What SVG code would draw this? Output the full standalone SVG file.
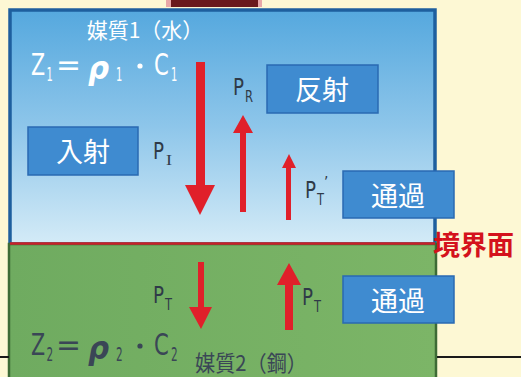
<svg xmlns="http://www.w3.org/2000/svg" width="521" height="377" viewBox="0 0 521 377">
<defs>
<linearGradient id="water" x1="0" y1="0" x2="0" y2="1">
<stop offset="0" stop-color="#55a8de"/>
<stop offset="0.5" stop-color="#8ec6ea"/>
<stop offset="1" stop-color="#d4ebf7"/>
</linearGradient>
<linearGradient id="steel" x1="0" y1="0" x2="1" y2="0">
<stop offset="0" stop-color="#6fab60"/>
<stop offset="1" stop-color="#7cb567"/>
</linearGradient>
</defs>
<style>
.jp{font-family:"Noto Sans CJK JP","Noto Sans",sans-serif;}
.lat{font-family:"DejaVu Sans Condensed","DejaVu Sans","Liberation Sans",sans-serif;}
.box rect{fill:#3f8bd0;stroke:#2a6ab2;stroke-width:1.5;}
.box text{fill:#ffffff;font-size:27px;text-anchor:middle;}
.lbl{fill:#2f3a48;font-size:23px;}
.sub{fill:#2f3a48;font-size:15px;}
.arrow{fill:#e0202a;}
.w{fill:#ffffff;}
.d{fill:#3a4656;}
.big{font-size:31px;}
.sm{font-size:20px;}
.rho{font-size:32px;font-style:italic;font-weight:bold;}
</style>
<rect width="521" height="377" fill="#fdf8d4"/>
<rect x="166" y="0" width="96" height="7" fill="#e8a8a8"/>
<rect x="171" y="0" width="87" height="7" fill="#6a1a1c"/>
<g id="medium1">
<rect x="10" y="10" width="425" height="234" fill="url(#water)" stroke="#1e5f9e" stroke-width="3.5"/>
<text class="jp w" x="145" y="38" font-size="21" text-anchor="middle">媒質1（水）</text>
<g class="lat w">
<text class="big" transform="translate(31,75) scale(0.74,1)">Z</text>
<text class="sm" transform="translate(46.5,81) scale(0.55,1)">1</text>
<text class="big" x="56" y="75" textLength="25" lengthAdjust="spacingAndGlyphs">=</text>
<text class="rho" x="88" y="79" textLength="21" lengthAdjust="spacingAndGlyphs">ρ</text>
<text class="sm" transform="translate(116,81) scale(0.55,1)">1</text>
<circle cx="140" cy="66" r="2.6"/>
<text class="big" transform="translate(154,75) scale(0.76,1)">C</text>
<text class="sm" transform="translate(171,81) scale(0.55,1)">1</text>
</g>
</g>
<g id="medium2">
<rect x="9" y="244" width="427" height="140" fill="url(#steel)" stroke="#3d6b35" stroke-width="2.5"/>
<g class="lat d">
<text class="big" transform="translate(31,355) scale(0.74,1)">Z</text>
<text class="sm" transform="translate(46.5,361) scale(0.58,1)">2</text>
<text class="big" x="56" y="355" textLength="25" lengthAdjust="spacingAndGlyphs">=</text>
<text class="rho" x="88" y="359" textLength="21" lengthAdjust="spacingAndGlyphs">ρ</text>
<text class="sm" transform="translate(116,361) scale(0.58,1)">2</text>
<circle cx="140" cy="346" r="2.6"/>
<text class="big" transform="translate(154,355) scale(0.76,1)">C</text>
<text class="sm" transform="translate(171,361) scale(0.58,1)">2</text>
</g>
<text class="jp d" x="195" y="371" font-size="22" textLength="112" lengthAdjust="spacingAndGlyphs">媒質2（鋼）</text>
</g>
<g id="boundary">
<line x1="10" y1="243.5" x2="435" y2="243.5" stroke="#c8202a" stroke-width="2.5"/>
<text class="jp" x="433" y="255" font-size="27" font-weight="bold" fill="#d4121c">境界面</text>
</g>
<g id="frame-lines" stroke="#1a1a1a" stroke-width="2">
<line x1="0" y1="357" x2="9" y2="357"/>
<line x1="437" y1="357" x2="521" y2="357"/>
</g>
<g id="connectors">
<polygon class="arrow" points="196,62 205,62 205,185 215,185 200,215 185,185 196,185"/>
<polygon class="arrow" points="240,212 246,212 246,133 253,133 243,115 233,133 240,133"/>
<polygon class="arrow" points="286,220 291,220 291,168 296,168 289,154 282,168 286,168"/>
<polygon class="arrow" points="198,262 204,262 204,307 212,307 201,329 189,307 198,307"/>
<polygon class="arrow" points="285,330 293,330 293,285 301,285 289,263 277,285 285,285"/>
</g>
<g id="labels" class="lat">
<text class="lbl" x="153" y="159" textLength="11" lengthAdjust="spacingAndGlyphs">P</text>
<text class="sub" x="166" y="165" font-family="Liberation Serif,serif" textLength="6" lengthAdjust="spacingAndGlyphs">I</text>
<text class="lbl" x="233" y="95" textLength="11" lengthAdjust="spacingAndGlyphs">P</text>
<text class="sub" x="245" y="102" textLength="8" lengthAdjust="spacingAndGlyphs">R</text>
<text class="lbl" x="305" y="198" textLength="11" lengthAdjust="spacingAndGlyphs">P</text>
<text class="sub" x="317" y="205" textLength="7" lengthAdjust="spacingAndGlyphs">T</text>
<text class="sub" x="324" y="188">’</text>
<text class="lbl" x="153" y="303" textLength="11" lengthAdjust="spacingAndGlyphs">P</text>
<text class="sub" x="165" y="310" textLength="7" lengthAdjust="spacingAndGlyphs">T</text>
<text class="lbl" x="302" y="305" textLength="11" lengthAdjust="spacingAndGlyphs">P</text>
<text class="sub" x="314" y="312" textLength="7" lengthAdjust="spacingAndGlyphs">T</text>
</g>
<g id="incident" class="box jp">
<rect x="28" y="127" width="110" height="48"/>
<text x="83" y="162">入射</text>
</g>
<g id="reflect" class="box jp">
<rect x="267" y="65" width="111" height="48"/>
<text x="322" y="100">反射</text>
</g>
<g id="transmit1" class="box jp">
<rect x="343" y="171" width="111" height="47"/>
<text x="398" y="206">通過</text>
</g>
<g id="transmit2" class="box jp">
<rect x="343" y="276" width="111" height="47"/>
<text x="398" y="311">通過</text>
</g>
</svg>
